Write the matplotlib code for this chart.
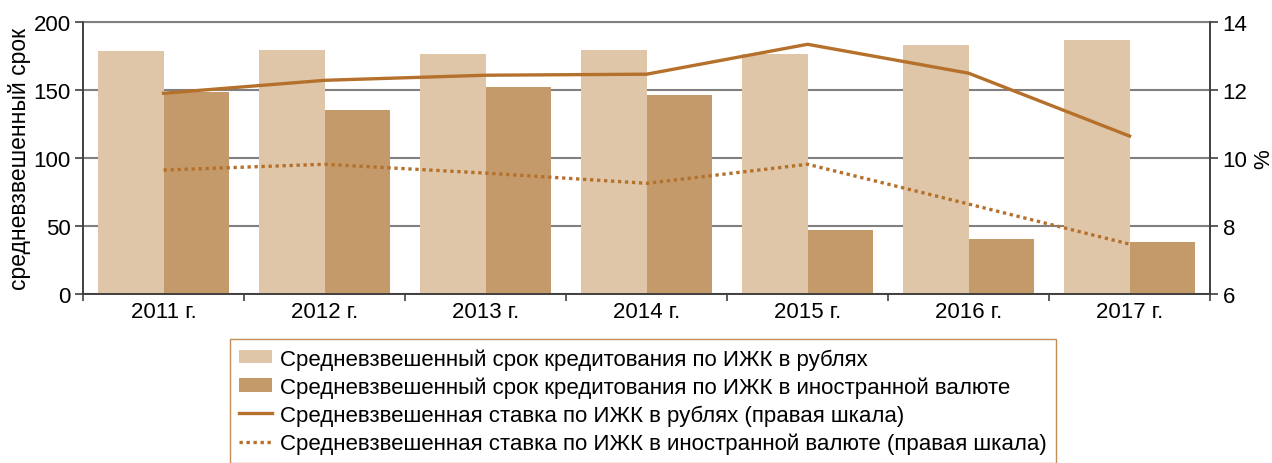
import matplotlib
matplotlib.use('Agg')
import matplotlib.pyplot as plt
import numpy as np

plt.rcParams['font.family'] = ['Liberation Sans', 'DejaVu Sans']

years = ['2011 г.', '2012 г.', '2013 г.', '2014 г.', '2015 г.', '2016 г.', '2017 г.']
term_rub = [178.7, 179.4, 176.5, 179.4, 176.5, 183.0, 186.8]
term_fx = [148.5, 135.3, 152.2, 146.3, 47.0, 40.4, 38.2]
rate_rub = [11.91, 12.29, 12.44, 12.47, 13.35, 12.50, 10.65]
rate_fx = [9.65, 9.82, 9.56, 9.26, 9.82, 8.65, 7.47]

labels = ['Средневзвешенный срок кредитования по ИЖК в рублях',
          'Средневзвешенный срок кредитования по ИЖК в иностранной валюте',
          'Средневзвешенная ставка по ИЖК в рублях (правая шкала)',
          'Средневзвешенная ставка по ИЖК в иностранной валюте (правая шкала)']

c_light = '#dfc6a8'
c_dark = '#c49a6b'
c_line = '#b5712b'
grid_c = '#808080'

fig = plt.figure(figsize=(12.72, 4.64), dpi=100)
ax = fig.add_axes([0.0653, 0.364, 0.886, 0.586])
x = np.arange(len(years))
w = 0.405
b1 = ax.bar(x - w / 2, term_rub, w, color=c_light, label=labels[0], zorder=2)
b2 = ax.bar(x + w / 2, term_fx, w, color=c_dark, label=labels[1], zorder=2)

ax.set_xlim(-0.5, len(years) - 0.5)
ax.set_ylim(0, 200)
ax.set_yticks([0, 50, 100, 150, 200])
ax.set_xticks(x)
ax.set_xticklabels(years)
ax.set_xticks(np.arange(-0.5, len(years)), minor=True)
ax.tick_params(axis='x', which='major', length=0, labelsize=16, pad=5)
ax.tick_params(axis='x', which='minor', length=5, color='#404040', width=1.2)
ax.tick_params(axis='y', labelsize=16, length=6, color='#404040', width=1.2, pad=3)
ax.yaxis.grid(True, color=grid_c, linewidth=1.5)
ax.set_axisbelow(True)
ax.set_ylabel('средневзвешенный срок', fontsize=16.5, labelpad=2)
for s in ['left', 'right', 'bottom']:
    ax.spines[s].set_color('#404040')
    ax.spines[s].set_linewidth(1.2)
ax.spines['top'].set_color(grid_c)
ax.spines['top'].set_linewidth(1.5)

ax2 = ax.twinx()
l1, = ax2.plot(x, rate_rub, color=c_line, linewidth=2.4, label=labels[2])
l2, = ax2.plot(x, rate_fx, color=c_line, linewidth=2.4, linestyle=(0, (1, 1.1)), label=labels[3])
ax2.set_ylim(6, 14)
ax2.set_yticks([6, 8, 10, 12, 14])
ax2.tick_params(axis='y', labelsize=16, length=6, color='#404040', width=1.2, pad=3)
ax2.set_ylabel('%', fontsize=16, labelpad=4)
for s in ['left', 'right', 'bottom']:
    ax2.spines[s].set_color('#404040')
    ax2.spines[s].set_linewidth(1.2)
ax2.spines['top'].set_visible(False)

leg = fig.legend(handles=[b1, b2, l1, l2], loc='upper left',
                 bbox_to_anchor=(0.181, 0.267), fontsize=16, frameon=True,
                 fancybox=False, edgecolor=c_line, handlelength=1.5,
                 handleheight=0.55, handletextpad=0.36, labelspacing=0.3,
                 borderpad=0.4, borderaxespad=0)
leg.get_frame().set_linewidth(1.0)

fig.savefig('out.png', dpi=100)
